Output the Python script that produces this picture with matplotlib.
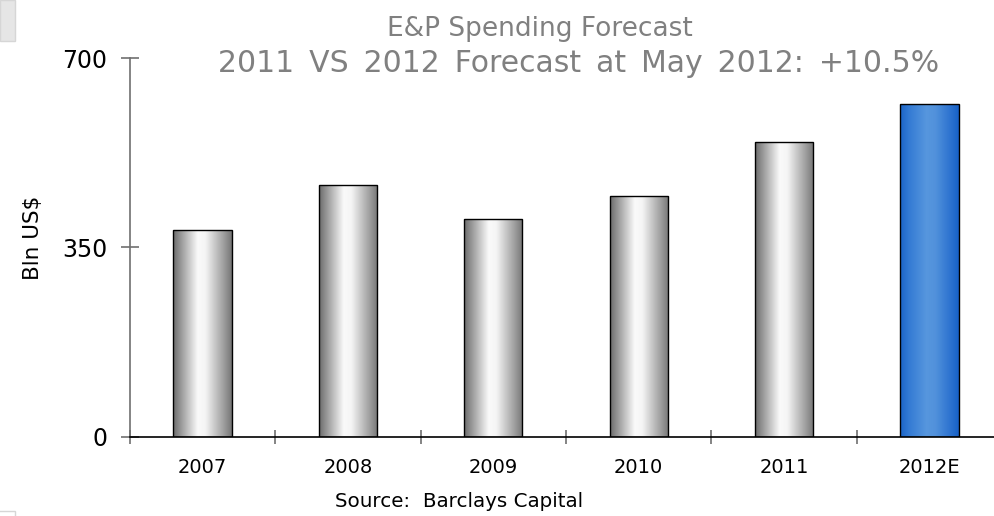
import numpy as np
import matplotlib.pyplot as plt
from matplotlib.patches import Rectangle

# E&P spending, billions of US dollars
years = ['2007', '2008', '2009', '2010', '2011', '2012E']
spending = [382, 465, 402, 445, 546, 615]
is_forecast = [False, False, False, False, False, True]
yticks = [0, 350, 700]

W, H = 994, 516


def px(x, y):
    # pixel position (from top-left) -> figure fraction
    return x / W, 1 - y / H


def cylinder(stops, colors, n=256):
    # horizontal gradient strip used to shade a bar like a cylinder
    t = np.linspace(0, 1, n)
    colors = np.array(colors)
    rgb = np.stack([np.interp(t, stops, colors[:, i]) for i in range(3)], axis=-1)
    return rgb[np.newaxis, :, :]


grey_shade = cylinder([0, 0.12, 0.42, 0.55, 0.88, 1],
                      [(0.42, 0.42, 0.42), (0.58, 0.58, 0.58), (0.98, 0.98, 0.98),
                       (0.96, 0.96, 0.96), (0.60, 0.60, 0.60), (0.46, 0.46, 0.46)])
blue_shade = cylinder([0, 0.15, 0.45, 0.6, 0.88, 1],
                      [(0.10, 0.39, 0.78), (0.20, 0.48, 0.83), (0.34, 0.59, 0.87),
                       (0.32, 0.57, 0.86), (0.16, 0.44, 0.81), (0.09, 0.38, 0.78)])

fig = plt.figure(figsize=(W / 100, H / 100), dpi=100)
ax = fig.add_axes([0.1306, 0.1537, 0.8777, 0.7333])

x = np.arange(len(years))
bars = ax.bar(x, spending, width=0.4, color='none', edgecolor='black',
              linewidth=1.0, zorder=3)

for bar, fc in zip(bars, is_forecast):
    x0 = bar.get_x()
    img = ax.imshow(blue_shade if fc else grey_shade, aspect='auto',
                    extent=[x0, x0 + bar.get_width(), 0, bar.get_height()],
                    interpolation='bilinear', zorder=2)
    img.set_clip_path(bar)

ax.set_xlim(-0.5, len(years) - 0.5)
ax.set_ylim(0, 700)

ax.set_yticks(yticks)
ax.set_xticks(np.arange(-0.5, len(years), 1))
ax.set_xticklabels([])
ax.set_xticks(x, labels=years, minor=True)
ax.tick_params(axis='x', which='minor', length=0, labelsize=14, pad=15)
ax.tick_params(axis='x', which='major', direction='inout', length=10,
               color='#707070', width=1.2)
ax.tick_params(axis='y', direction='inout', length=12.5, color='#707070',
               width=1.2, labelsize=17, pad=10)

for s in ['top', 'right']:
    ax.spines[s].set_visible(False)
ax.spines['left'].set_color('#707070')
ax.spines['left'].set_linewidth(1.2)
ax.spines['bottom'].set_color('black')
ax.spines['bottom'].set_linewidth(1.2)

fig.text(*px(33, 238), 'Bln US$', rotation=90, ha='center', va='center',
         fontsize=15.5, color='black')

# title lines (en spaces keep the wide word gaps)
fig.text(*px(540, 36), 'E&P Spending Forecast', ha='center', va='baseline',
         fontsize=19, color='#808080')
subtitle = '2011 VS 2012 Forecast at May 2012: +10.5%'.replace(' ', '\u2002')
fig.text(*px(579, 72), subtitle, ha='center', va='baseline',
         fontsize=21.5, color='#808080')
fig.text(*px(459, 507), 'Source:  Barclays Capital', ha='center',
         va='baseline', fontsize=14.3, color='black')

# panel edges at the left border
fig.patches.append(Rectangle(px(0, 41), 15 / W, 41 / H, transform=fig.transFigure,
                             facecolor='#e6e6e6', edgecolor='#d6d6d6', lw=1))
fig.patches.append(Rectangle(px(-2, 520), 17 / W, 9 / H, transform=fig.transFigure,
                             facecolor='white', edgecolor='#d6d6d6', lw=1))

fig.savefig('out.png', dpi=100)
